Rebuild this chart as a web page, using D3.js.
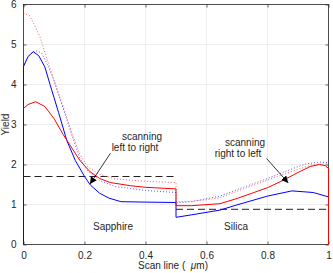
<!DOCTYPE html>
<html>
<head>
<meta charset="utf-8">
<script src="https://cdn.jsdelivr.net/npm/d3@7"></script>
<style>
  body { margin: 0; background: #fff; }
  text { font-family: "Liberation Sans", Arial, sans-serif; fill: #262626; }
</style>
</head>
<body>
<script>
// chart size
var w = 333;
var h = 273;
var margin = {top: 4.5, right: 4.5, bottom: 28.5, left: 23.5};

// scan positions / yields
var blueSolid = [[0,0],[0,4.45],[0.015,4.7],[0.032,4.82],[0.05,4.72],[0.07,4.44],[0.087,4.0],
  [0.115,3.3],[0.142,2.6],[0.17,2.1],[0.2,1.7],[0.22,1.48],[0.25,1.28],[0.28,1.16],[0.32,1.07],
  [0.4,1.06],[0.5,1.05],[0.5,0.68],[0.55,0.74],[0.644,0.86],[0.7,0.99],[0.8,1.21],[0.88,1.34],
  [0.95,1.3],[1,1.19]];
var redSolid = [[0,3.4],[0.015,3.5],[0.04,3.57],[0.07,3.45],[0.1,3.15],[0.13,2.75],[0.153,2.48],
  [0.185,2.1],[0.218,1.82],[0.25,1.65],[0.284,1.55],[0.35,1.47],[0.4,1.43],[0.5,1.39],[0.5,0.97],
  [0.55,0.97],[0.644,1.02],[0.7,1.15],[0.8,1.42],[0.85,1.6],[0.9,1.8],[0.94,1.95],[0.97,2.0],
  [0.99,1.97],[1,1.9],[1,0]];
var redDotted = [[0,5.78],[0.02,5.72],[0.035,5.5],[0.054,5.19],[0.087,4.4],[0.1,4.1],[0.13,3.45],
  [0.16,2.75],[0.185,2.25],[0.21,1.95],[0.25,1.75],[0.3,1.64],[0.4,1.58],[0.5,1.55],[0.5,1.07],
  [0.55,1.08],[0.6,1.12],[0.644,1.17],[0.7,1.33],[0.8,1.61],[0.9,1.88],[0.95,2.0],[1,2.02]];
var blueDotted = [[0,4.45],[0.015,4.7],[0.032,4.82],[0.045,4.84],[0.06,4.78],[0.075,4.55],
  [0.09,4.3],[0.1,4.1],[0.13,3.4],[0.16,2.7],[0.185,2.15],[0.21,1.85],[0.25,1.6],[0.3,1.45],
  [0.4,1.35],[0.5,1.3],[0.5,1.04],[0.55,1.07],[0.644,1.21],[0.7,1.37],[0.8,1.65],[0.9,1.95],
  [0.93,2.02],[0.97,2.06],[1,2.05]];
var sapphireLevel = [[0,1.7],[0.5,1.7]];
var silicaLevel = [[0.5,0.88],[1,0.88]];

var xTicks = [0, 0.2, 0.4, 0.6, 0.8, 1];
var yTicks = [0, 1, 2, 3, 4, 5, 6];

var svg = d3.select("body").append("svg")
  .attr("width", w)
  .attr("height", h);

var x = d3.scaleLinear().domain([0, 1]).range([margin.left, w - margin.right]);
var y = d3.scaleLinear().domain([0, 6]).range([h - margin.bottom, margin.top]);

// grid
svg.append("g").selectAll("line").data(xTicks).enter().append("line")
  .attr("x1", d => x(d)).attr("x2", d => x(d))
  .attr("y1", y(0)).attr("y2", y(6))
  .attr("stroke", "#e6e6e6").attr("stroke-width", 0.7);
svg.append("g").selectAll("line").data(yTicks).enter().append("line")
  .attr("y1", d => y(d)).attr("y2", d => y(d))
  .attr("x1", x(0)).attr("x2", x(1))
  .attr("stroke", "#e6e6e6").attr("stroke-width", 0.7);

// axes (ticks pointing inwards on all four sides)
function styleAxis(g) {
  g.select(".domain").remove();
  g.selectAll(".tick line").attr("stroke", "#262626").attr("stroke-width", 0.7);
  g.selectAll("text").style("font-size", "10px").attr("fill", "#262626");
}
svg.append("g").attr("transform", "translate(0," + y(0) + ")")
  .call(d3.axisBottom(x).tickValues(xTicks).tickSize(-3).tickPadding(7).tickFormat(d3.format("")))
  .call(styleAxis);
svg.append("g").attr("transform", "translate(0," + y(6) + ")")
  .call(d3.axisTop(x).tickValues(xTicks).tickSize(-3).tickFormat(""))
  .call(styleAxis);
svg.append("g").attr("transform", "translate(" + x(0) + ",0)")
  .call(d3.axisLeft(y).tickValues(yTicks).tickSize(-3).tickPadding(7).tickFormat(d3.format("d")))
  .call(styleAxis);
svg.append("g").attr("transform", "translate(" + x(1) + ",0)")
  .call(d3.axisRight(y).tickValues(yTicks).tickSize(-3).tickFormat(""))
  .call(styleAxis);

svg.append("rect")
  .attr("x", x(0)).attr("y", y(6))
  .attr("width", x(1) - x(0)).attr("height", y(0) - y(6))
  .attr("fill", "none").attr("stroke", "#262626").attr("stroke-width", 0.8);

var line = d3.line().x(d => x(d[0])).y(d => y(d[1]));

// reference levels
[sapphireLevel, silicaLevel].forEach(function(lv) {
  svg.append("path").attr("d", line(lv))
    .attr("fill", "none").attr("stroke", "#222").attr("stroke-width", 1)
    .attr("stroke-dasharray", "7,4");
});

// dotted curves
svg.append("path").attr("d", line(redDotted))
  .attr("fill", "none").attr("stroke", "#ff2020").attr("stroke-width", 1)
  .attr("stroke-dasharray", "1,2").attr("opacity", 0.75);
svg.append("path").attr("d", line(blueDotted))
  .attr("fill", "none").attr("stroke", "#2020ff").attr("stroke-width", 1)
  .attr("stroke-dasharray", "1,2").attr("opacity", 0.75);

// solid curves
svg.append("path").attr("d", line(blueSolid))
  .attr("fill", "none").attr("stroke", "#0000ff").attr("stroke-width", 1);
svg.append("path").attr("d", line(redSolid))
  .attr("fill", "none").attr("stroke", "#ff0000").attr("stroke-width", 1);

// arrows
var defs = svg.append("defs");
defs.append("marker").attr("id", "head")
  .attr("viewBox", "0 0 10 10").attr("refX", 10).attr("refY", 5)
  .attr("markerWidth", 7).attr("markerHeight", 7)
  .attr("markerUnits", "userSpaceOnUse")
  .attr("orient", "auto")
  .append("path").attr("d", "M0,0L10,5L0,10z").attr("fill", "#000");

var arrows = [
  [[0.285, 2.28], [0.218, 1.51]],
  [[0.797, 2.15], [0.868, 1.54]]
];
arrows.forEach(function(a) {
  svg.append("path").attr("d", line(a))
    .attr("stroke", "#000").attr("stroke-width", 0.8)
    .attr("marker-end", "url(#head)");
});

// annotations
function note(txt, cx, cy) {
  svg.append("text").attr("x", cx).attr("y", cy)
    .attr("text-anchor", "middle").style("font-size", "10px").attr("fill", "#000")
    .text(txt);
}
note("scanning", 142, 140);
note("left to right", 135, 150.5);
note("scanning", 245, 145.5);
note("right to left", 238, 156.5);
note("Sapphire", 113, 230);
note("Silica", 236, 230);

// axis titles
svg.append("text")
  .attr("transform", "translate(9," + y(3) + ") rotate(-90)")
  .attr("text-anchor", "middle").style("font-size", "10px")
  .text("Yield");
var xl = svg.append("text")
  .attr("x", 173).attr("y", 268.5)
  .attr("text-anchor", "middle").style("font-size", "10px");
xl.append("tspan").text("Scan line (\u00a0\u00a0");
xl.append("tspan").style("font-style", "italic").text("μ");
xl.append("tspan").text("m)");
</script>
</body>
</html>
